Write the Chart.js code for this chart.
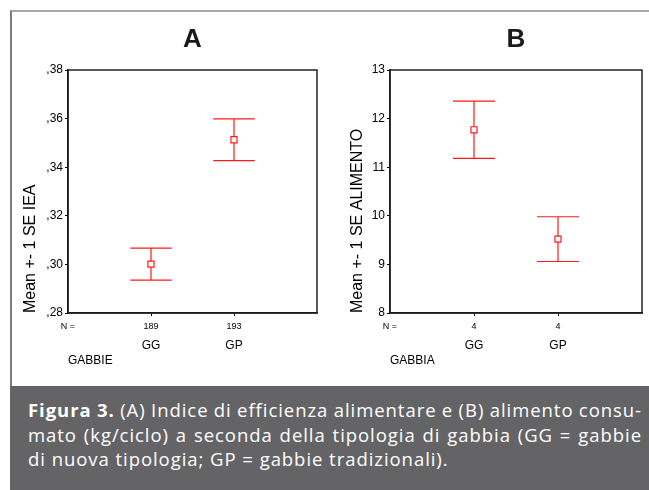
<!DOCTYPE html>
<html>
<head>
<meta charset="utf-8">
<script src="https://cdn.jsdelivr.net/npm/chart.js@4.4.0/dist/chart.umd.min.js"></script>
<style>
  body { margin: 0; background: #fff; }
  #page { position: relative; width: 649px; height: 490px; overflow: hidden; background: #fff; }
  #frame { position: absolute; left: 10px; top: 10px; width: 639px; height: 376px;
           border-top: 2px solid #a9a9a9; border-left: 2px solid #7d7d7d; box-sizing: border-box; }
  .box { position: absolute; top: 12px; height: 372px; }
  #boxA { left: 12px; width: 318px; }
  #boxB { left: 330px; width: 319px; }
  #caption { position: absolute; left: 10px; top: 386px; width: 639px; height: 104px;
             background: #646466; color: #fff; box-sizing: border-box; padding: 12px 7px 0 18px;
             font-family: "Open Sans", "Noto Sans", sans-serif; font-size: 18.5px; letter-spacing: 0.95px; }
  .line { height: 24.5px; line-height: 24.5px; white-space: nowrap; }
  .j { text-align: justify; text-align-last: justify; word-spacing: -2px; }
</style>
</head>
<body>
<div id="page">
  <div id="frame"></div>
  <div class="box" id="boxA"><canvas id="chartA" width="318" height="372"></canvas></div>
  <div class="box" id="boxB"><canvas id="chartB" width="319" height="372"></canvas></div>
  <div id="caption">
    <div class="line j"><b>Figura 3.</b> (A) Indice di efficienza alimentare e (B) alimento consu-</div>
    <div class="line j">mato (kg/ciclo) a seconda della tipologia di gabbia (GG = gabbie</div>
    <div class="line">di nuova tipologia; GP = gabbie tradizionali).</div>
  </div>
</div>

<script>
// categories
const groups = ['GG', 'GP'];

// panel A - IEA
const nA = ['189', '193'];
const meanA = [0.3001, 0.3513];
const seA = [0.0066, 0.0086];
const ticksA = [0.28, 0.30, 0.32, 0.34, 0.36, 0.38];

// panel B - ALIMENTO
const nB = ['4', '4'];
const meanB = [11.77, 9.52];
const seB = [0.59, 0.46];
const ticksB = [8, 9, 10, 11, 12, 13];

const FONT = 'Liberation Sans, Arial, sans-serif';
const RED = '#ff1a1a';

// draws the +- 1 SE bars and the box round the plot
const errorBars = {
    id: 'errorBars',
    beforeDatasetsDraw(chart, args, opts) {
        const {ctx} = chart;
        const xs = chart.scales.x, ys = chart.scales.y;
        ctx.save();
        ctx.strokeStyle = RED;
        ctx.lineWidth = 1.2;
        opts.mean.forEach((m, i) => {
            const x = xs.getPixelForValue(i + 1);
            const half = xs.getPixelForValue(i + 1 + opts.cap) - x;
            const top = ys.getPixelForValue(m + opts.se[i]);
            const bot = ys.getPixelForValue(m - opts.se[i]);
            ctx.beginPath();
            ctx.moveTo(x, top); ctx.lineTo(x, bot);
            ctx.moveTo(x - half, top); ctx.lineTo(x + half, top);
            ctx.moveTo(x - half, bot); ctx.lineTo(x + half, bot);
            ctx.stroke();
        });
        ctx.restore();
    },
    afterDraw(chart) {
        const {ctx, chartArea: a} = chart;
        ctx.save();
        ctx.strokeStyle = '#222';
        ctx.lineWidth = 1.5;
        ctx.strokeRect(a.left, a.top, a.right - a.left, a.bottom - a.top);
        ctx.restore();
    }
};

const makeChart = function(id, cfg) {
    return new Chart(document.getElementById(id), {
        type: 'scatter',
        data: {
            datasets: [{
                data: cfg.mean.map((m, i) => ({x: i + 1, y: m})),
                pointStyle: 'rect',
                pointRadius: 4.3,
                borderColor: RED,
                backgroundColor: '#fff',
                borderWidth: 1.2,
                showLine: false
            }]
        },
        options: {
            responsive: false,
            animation: false,
            layout: { padding: { left: 0, right: cfg.padRight, top: 0, bottom: 0 } },
            plugins: {
                legend: { display: false },
                tooltip: { enabled: false },
                title: {
                    display: true,
                    text: cfg.title,
                    fullSize: false,
                    color: '#1a1a1a',
                    font: { family: FONT, size: 26, weight: 'bold', lineHeight: 1.2 },
                    padding: { top: 12, bottom: 14.8 }
                },
                errorBars: { mean: cfg.mean, se: cfg.se, cap: 0.25 }
            },
            scales: {
                x: {
                    type: 'linear', position: 'bottom', min: 0, max: 3,
                    afterFit: s => { s.height = 20; },
                    border: { display: true, color: '#000', width: 1.5 },
                    grid: {
                        drawOnChartArea: false, drawTicks: true, tickLength: 3,
                        color: c => (c.tick && c.tick.value > 0 && c.tick.value < 3) ? '#000' : 'rgba(0,0,0,0)'
                    },
                    ticks: {
                        stepSize: 1, autoSkip: false, maxRotation: 0, padding: 5,
                        color: '#000', font: { family: FONT, size: 9 },
                        callback: v => v === 0 ? 'N =' : (cfg.n[v - 1] || '')
                    }
                },
                x2: {
                    type: 'linear', position: 'bottom', weight: 1, min: 0, max: 3,
                    afterFit: s => { s.height = 51; },
                    border: { display: false },
                    grid: { display: false, drawTicks: false },
                    ticks: {
                        stepSize: 1, autoSkip: false, maxRotation: 0, padding: 5,
                        color: '#000', font: { family: FONT, size: 12 },
                        callback: v => groups[v - 1] || ''
                    },
                    title: {
                        display: true, text: cfg.xTitle, align: 'start', color: '#000',
                        font: { family: FONT, size: 12, lineHeight: 1.2 },
                        padding: { top: 0, bottom: 15.8 }
                    }
                },
                y: {
                    type: 'linear', min: cfg.ticks[0], max: cfg.ticks[cfg.ticks.length - 1],
                    afterFit: s => { s.width = cfg.yWidth; },
                    afterBuildTicks: s => { s.ticks = cfg.ticks.map(v => ({value: v})); },
                    border: { display: true, color: '#000', width: 1.5 },
                    grid: { drawOnChartArea: false, drawTicks: true, tickLength: 3, color: '#000' },
                    ticks: {
                        padding: 2, color: '#000', font: { family: FONT, size: 12 },
                        callback: cfg.fmt
                    },
                    title: {
                        display: true, text: cfg.yTitle, align: 'start', color: '#000',
                        font: { family: FONT, size: 16, lineHeight: 1.2 },
                        padding: { top: cfg.yTitlePad, bottom: 0 }
                    }
                }
            }
        },
        plugins: [errorBars]
    });
};

makeChart('chartA', {
    title: 'A', mean: meanA, se: seA, n: nA, ticks: ticksA,
    fmt: v => ',' + (v * 100).toFixed(0),
    xTitle: 'GABBIE', yTitle: 'Mean +- 1 SE IEA',
    yWidth: 56, yTitlePad: 9.4, padRight: 13
});

makeChart('chartB', {
    title: 'B', mean: meanB, se: seB, n: nB, ticks: ticksB,
    fmt: v => String(v),
    xTitle: 'GABBIA', yTitle: 'Mean +- 1 SE ALIMENTO',
    yWidth: 60, yTitlePad: 17.9, padRight: 7
});
</script>
</body>
</html>
